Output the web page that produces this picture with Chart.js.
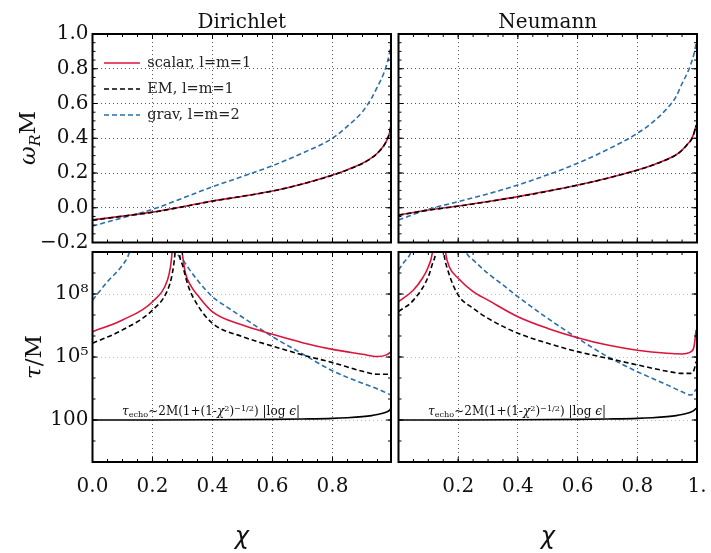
<!DOCTYPE html>
<html>
<head>
<meta charset="utf-8">
<script src="https://cdn.jsdelivr.net/npm/chart.js@4.4.1/dist/chart.umd.min.js"></script>
<style>
  body { margin: 0; background: #fff; }
  #wrap { position: relative; width: 711px; height: 553px; overflow: hidden; font-family: 'DejaVu Serif', serif; color: #111; }
  #wrap canvas { position: absolute; left: 0; top: 0; }
  .txt { position: absolute; white-space: nowrap; line-height: 1; }
  .title { font-size: 20px; top: 11px; transform: translateX(-50%); }
  .ylab { font-size: 23px; transform: translate(-50%, -50%) rotate(-90deg); }
  .xlab { font-family: 'DejaVu Sans', sans-serif; font-style: italic; font-size: 24px; top: 524px; transform: translateX(-50%); }
  .note { font-size: 12px; top: 405px; }
  .lo { position: relative; font-size: 0.68em; top: 0.3em; }
  .hi { position: relative; font-size: 0.68em; top: -0.45em; }
</style>
</head>
<body>
<div id="wrap">
  <canvas id="topD" width="711" height="553"></canvas>
  <canvas id="topN" width="711" height="553"></canvas>
  <canvas id="botD" width="711" height="553"></canvas>
  <canvas id="botN" width="711" height="553"></canvas>

  <div class="txt title" style="left:241.75px">Dirichlet</div>
  <div class="txt title" style="left:547.75px">Neumann</div>
  <div class="txt ylab" style="left:27px;top:138px"><i>ω</i><span class="lo"><i>R</i></span>M</div>
  <div class="txt ylab" style="left:33px;top:357px"><i>τ</i>/M</div>
  <div class="txt xlab" style="left:241.75px">χ</div>
  <div class="txt xlab" style="left:547.75px">χ</div>
  <div class="txt note" style="left:122px"><i>τ</i><span class="lo">echo</span>~2M(1+(1-<i>χ</i><span class="hi">2</span>)<span class="hi">−1/2</span>) |log <i>ϵ</i>|</div>
  <div class="txt note" style="left:428px"><i>τ</i><span class="lo">echo</span>~2M(1+(1-<i>χ</i><span class="hi">2</span>)<span class="hi">−1/2</span>) |log <i>ϵ</i>|</div>
</div>

<script>
// Axis ticks
const chiTicks = [0, 0.2, 0.4, 0.6, 0.8, 1.0];
const chiLabelsD = ['0.0', '0.2', '0.4', '0.6', '0.8', ''];
const chiLabelsN = ['', '0.2', '0.4', '0.6', '0.8', '1.'];
const omegaTicks = [-0.2, 0, 0.2, 0.4, 0.6, 0.8, 1.0];
const omegaLabels = ['−0.2', '0.0', '0.2', '0.4', '0.6', '0.8', '1.0'];
const tauTicks = [100, 1e5, 1e8];
const tauLabels = ['100', '10⁵', '10⁸'];

// Real part of the frequency, Dirichlet
const chiTopD = [0, 0.1, 0.2, 0.3, 0.4, 0.5, 0.6, 0.7, 0.8, 0.85, 0.9, 0.93, 0.95, 0.97, 0.98, 0.99, 0.995];
const omegaScalarD = [-0.070, -0.048, -0.025, 0.006, 0.039, 0.066, 0.096, 0.137, 0.188, 0.219, 0.256, 0.287, 0.315, 0.355, 0.385, 0.430, 0.475];
const omegaEmD = [-0.072, -0.049, -0.026, 0.005, 0.038, 0.066, 0.096, 0.137, 0.187, 0.218, 0.255, 0.286, 0.314, 0.354, 0.384, 0.430, 0.474];
const omegaGravD = [-0.105, -0.058, -0.009, 0.055, 0.121, 0.180, 0.242, 0.315, 0.400, 0.470, 0.553, 0.630, 0.697, 0.770, 0.820, 0.890, 0.950];

// Real part of the frequency, Neumann
const chiTopN = [0, 0.1, 0.2, 0.3, 0.4, 0.5, 0.6, 0.7, 0.8, 0.85, 0.9, 0.93, 0.95, 0.97, 0.98, 0.99, 0.997];
const omegaScalarN = [-0.042, -0.013, 0.010, 0.036, 0.064, 0.096, 0.131, 0.170, 0.217, 0.245, 0.279, 0.305, 0.332, 0.370, 0.390, 0.430, 0.476];
const omegaEmN = [-0.043, -0.014, 0.009, 0.035, 0.063, 0.095, 0.130, 0.170, 0.216, 0.244, 0.278, 0.304, 0.331, 0.369, 0.389, 0.430, 0.474];
const omegaGravN = [-0.070, -0.009, 0.035, 0.080, 0.131, 0.190, 0.256, 0.335, 0.428, 0.490, 0.572, 0.640, 0.715, 0.785, 0.830, 0.885, 0.946];

// Instability time scale, Dirichlet (null = break at the resonance)
const chiTauScalarD = [0, 0.1, 0.2, 0.25, 0.26, 0.265, 0.27, 0.28, 0.29, 0.3, 0.31, 0.33, 0.35, 0.4, 0.5, 0.6, 0.7, 0.8, 0.9, 0.95, 0.98, 0.995];
const tauScalarD = [1.6e6, 5.8e6, 4.3e7, 4.7e8, 2.0e9, 8.7e9, 1e11, null, 1e11, 7.2e9, 9.5e8, 2.2e8, 8.9e7, 1.4e7, 3.3e6, 1.2e6, 4.8e5, 2.3e5, 1.35e5, 1.05e5, 1.26e5, 1.8e5];
const chiTauEmD = [0, 0.1, 0.2, 0.25, 0.265, 0.275, 0.28, 0.282, 0.285, 0.29, 0.3, 0.32, 0.35, 0.4, 0.5, 0.6, 0.7, 0.8, 0.9, 0.95, 0.98, 0.995];
const tauEmD = [4.5e5, 1.95e6, 1.7e7, 1.5e8, 8e8, 8.7e9, 1e11, null, 1e11, 8e9, 2.4e9, 2.2e8, 3e7, 4e6, 9.3e5, 3.3e5, 1.26e5, 5.4e4, 2.1e4, 1.5e4, 1.5e4, 1.8e4];
const chiTauGravD = [0, 0.05, 0.1, 0.122, 0.14, 0.2, 0.27, 0.283, 0.3, 0.32, 0.35, 0.4, 0.45, 0.5, 0.6, 0.7, 0.8, 0.9, 0.95, 0.995];
const tauGravD = [5.1e7, 3.9e8, 2.4e9, 8.7e9, 1e11, null, 1e11, 8.7e9, 4.5e9, 1.7e9, 4.5e8, 7.4e7, 2.3e7, 7.8e6, 9.3e5, 1.4e5, 2.2e4, 5.6e3, 3.0e3, 1.55e3];
const chiEchoD = [0, 0.2, 0.4, 0.6, 0.7, 0.8, 0.85, 0.9, 0.93, 0.95, 0.97, 0.98, 0.99, 0.995];
const tauEchoD = [100, 100, 102, 107, 112, 120, 129, 145, 162, 182, 214, 240, 288, 363];

// Instability time scale, Neumann
const chiTauScalarN = [0, 0.05, 0.08, 0.1, 0.113, 0.12, 0.135, 0.15, 0.158, 0.17, 0.2, 0.25, 0.3, 0.4, 0.5, 0.6, 0.7, 0.8, 0.9, 0.95, 0.98, 0.99, 0.997];
const tauScalarN = [4.3e7, 1.55e8, 5.6e8, 2e9, 8.7e9, 1e11, null, 1e11, 8.7e9, 2e9, 5.6e8, 1.3e8, 5.1e7, 8.3e6, 2.3e6, 8.3e5, 3.7e5, 2.1e5, 1.5e5, 1.4e5, 1.8e5, 3.1e5, 1.95e6];
const chiTauEmN = [0, 0.05, 0.1, 0.115, 0.124, 0.13, 0.138, 0.145, 0.152, 0.165, 0.2, 0.25, 0.3, 0.4, 0.5, 0.6, 0.7, 0.8, 0.9, 0.95, 0.98, 0.99, 0.997];
const tauEmN = [1.45e7, 5.1e7, 6.8e8, 3.2e9, 8.7e9, 1e11, null, 1e11, 8.7e9, 1.4e9, 8.9e7, 2.1e7, 6.9e6, 1.35e6, 4.5e5, 1.8e5, 8.7e4, 4.2e4, 2.1e4, 1.66e4, 1.66e4, 2.4e4, 6e4];
const chiTauGravN = [0, 0.02, 0.04, 0.06, 0.14, 0.2, 0.228, 0.25, 0.3, 0.35, 0.4, 0.5, 0.6, 0.7, 0.8, 0.9, 0.95, 0.98, 0.997];
const tauGravN = [1.4e9, 3.5e9, 8.7e9, 1e11, null, 1e11, 8.7e9, 4.2e9, 9.5e8, 2.7e8, 7.4e7, 6.9e6, 7.8e5, 1.05e5, 2.0e4, 4.7e3, 2.2e3, 1.55e3, 2.9e3];
const chiEchoN = [0, 0.2, 0.4, 0.6, 0.7, 0.8, 0.85, 0.9, 0.93, 0.95, 0.97, 0.98, 0.99, 0.997];
const tauEchoN = [100, 100, 102, 107, 112, 120, 129, 145, 162, 182, 214, 240, 288, 363];

const RED = '#dc143c';
const BLUE = '#2c6ea8';
const BLACK = '#000';
const SERIF = "'DejaVu Serif', serif";
const DASH = [5, 3];

// minor frame ticks (decoration only)
const chiMinor = Array.from({length: 21}, (_, i) => i * 0.05);
const omegaMinor = Array.from({length: 25}, (_, i) => -0.2 + i * 0.05);
const tauMinor = Array.from({length: 11}, (_, i) => 10 ** i);

function series(chi, vals) {
    return chi.map((c, i) => ({x: c, y: vals[i]}));
}

function line(label, chi, vals, color, dashed, order) {
    return {
        label: label,
        data: series(chi, vals),
        borderColor: color,
        backgroundColor: color,
        borderWidth: 1.6,
        borderDash: dashed ? DASH : [],
        pointRadius: 0,
        fill: false,
        spanGaps: false,
        cubicInterpolationMode: 'monotone',
        order: order
    };
}

// small line sample used as legend marker (keeps the dash pattern)
function swatch(color, dash) {
    const c = document.createElement('canvas');
    c.width = 36;
    c.height = 4;
    const g = c.getContext('2d');
    g.strokeStyle = color;
    g.lineWidth = 1.6;
    g.setLineDash(dash);
    g.beginPath();
    g.moveTo(0, 2);
    g.lineTo(36, 2);
    g.stroke();
    return c;
}

// Mathematica-style frame with inward ticks
const frameTicks = {
    id: 'frameTicks',
    afterDraw(chart, args, opts) {
        const {ctx, chartArea: a} = chart;
        const xs = chart.scales.x, ys = chart.scales.y;
        ctx.save();
        ctx.strokeStyle = '#000';
        ctx.lineWidth = 1;
        const mark = (scale, vals, len) => {
            vals.forEach(v => {
                if (v < scale.min - 1e-9 || v > scale.max + 1e-9) return;
                const p = scale.getPixelForValue(v);
                ctx.beginPath();
                if (scale.isHorizontal()) {
                    ctx.moveTo(p, a.bottom); ctx.lineTo(p, a.bottom - len);
                    ctx.moveTo(p, a.top); ctx.lineTo(p, a.top + len);
                } else {
                    ctx.moveTo(a.left, p); ctx.lineTo(a.left + len, p);
                    ctx.moveTo(a.right, p); ctx.lineTo(a.right - len, p);
                }
                ctx.stroke();
            });
        };
        mark(xs, chiMinor, 3);
        mark(xs, chiTicks, 5);
        mark(ys, opts.yMinor, 3);
        mark(ys, opts.yMajor, 5);
        ctx.lineWidth = 2;
        ctx.strokeRect(a.left, a.top, a.width, a.height);
        ctx.restore();
    }
};

function panel(id, cfg) {
    const xAxis = {
        type: 'linear',
        min: 0,
        max: cfg.xMax,
        grid: {color: '#555', lineWidth: 1, drawTicks: false},
        border: {display: false, dash: [1, 3]},
        afterBuildTicks: s => { s.ticks = chiTicks.filter(v => v <= s.max + 1e-9).map(v => ({value: v})); },
        afterFit: s => { s.height = cfg.xLabels ? 40 : 0; s.paddingLeft = 0; s.paddingRight = 0; },
        ticks: {
            display: !!cfg.xLabels,
            autoSkip: false,
            maxRotation: 0,
            padding: 13,
            color: '#111',
            font: {family: SERIF, size: 20},
            callback: (v, i) => cfg.xLabels ? cfg.xLabels[i] : ''
        }
    };
    const yAxis = {
        type: cfg.yType,
        min: cfg.yMin,
        max: cfg.yMax,
        grid: {color: cfg.yGrid, lineWidth: 1, drawTicks: false},
        border: {display: false, dash: [1, 3]},
        afterBuildTicks: s => { s.ticks = cfg.yTicks.map(v => ({value: v})); },
        afterFit: s => { s.width = cfg.yLabels ? 60 : 0; s.paddingTop = 0; s.paddingBottom = 0; },
        ticks: {
            display: !!cfg.yLabels,
            autoSkip: false,
            padding: 4,
            color: '#111',
            font: {family: SERIF, size: 20},
            callback: (v, i) => cfg.yLabels ? cfg.yLabels[i] : ''
        }
    };
    return new Chart(document.getElementById(id), {
        type: 'line',
        data: {datasets: cfg.datasets},
        plugins: [frameTicks],
        options: {
            responsive: false,
            animation: false,
            events: [],
            layout: {padding: cfg.pad},
            plugins: {
                legend: cfg.legend || {display: false},
                tooltip: {enabled: false},
                frameTicks: {yMajor: cfg.yTicks, yMinor: cfg.yMinor}
            },
            scales: {x: xAxis, y: yAxis}
        }
    });
}

const legendTop = {
    display: true,
    position: 'chartArea',
    align: 'start',
    title: {display: true, text: '', font: {size: 1}, padding: {top: 43, bottom: 0}},
    labels: {
        usePointStyle: true,
        pointStyleWidth: 36,
        padding: 11.5,
        color: '#222',
        font: {family: SERIF, size: 14.5},
        generateLabels: chart => Chart.defaults.plugins.legend.labels.generateLabels(chart)
            .sort((a, b) => a.datasetIndex - b.datasetIndex)
            .map(item => {
                const ds = chart.data.datasets[item.datasetIndex];
                item.pointStyle = swatch(ds.borderColor, ds.borderDash);
                return item;
            })
    }
};

panel('topD', {
    pad: {left: 32.5, top: 34, right: 320, bottom: 310.5},
    xMax: 0.995, xLabels: null,
    yType: 'linear', yMin: -0.2, yMax: 1.0, yTicks: omegaTicks, yLabels: omegaLabels, yMinor: omegaMinor, yGrid: '#555',
    legend: legendTop,
    datasets: [
        line('scalar, l=m=1', chiTopD, omegaScalarD, RED, false, 1),
        line('EM, l=m=1', chiTopD, omegaEmD, BLACK, true, 0),
        line('grav, l=m=2', chiTopD, omegaGravD, BLUE, true, 2)
    ]
});

panel('topN', {
    pad: {left: 398.5, top: 34, right: 14, bottom: 310.5},
    xMax: 1.0, xLabels: null,
    yType: 'linear', yMin: -0.2, yMax: 1.0, yTicks: omegaTicks, yLabels: null, yMinor: omegaMinor, yGrid: '#555',
    datasets: [
        line('scalar, l=m=1', chiTopN, omegaScalarN, RED, false, 1),
        line('EM, l=m=1', chiTopN, omegaEmN, BLACK, true, 0),
        line('grav, l=m=2', chiTopN, omegaGravN, BLUE, true, 2)
    ]
});

panel('botD', {
    pad: {left: 32.5, top: 252, right: 320, bottom: 51},
    xMax: 0.995, xLabels: chiLabelsD,
    yType: 'logarithmic', yMin: 1, yMax: 1e10, yTicks: tauTicks, yLabels: tauLabels, yMinor: tauMinor, yGrid: '#bbb',
    datasets: [
        line('scalar, l=m=1', chiTauScalarD, tauScalarD, RED, false, 1),
        line('EM, l=m=1', chiTauEmD, tauEmD, BLACK, true, 0),
        line('grav, l=m=2', chiTauGravD, tauGravD, BLUE, true, 2),
        line('echo', chiEchoD, tauEchoD, BLACK, false, 3)
    ]
});

panel('botN', {
    pad: {left: 398.5, top: 252, right: 14, bottom: 51},
    xMax: 1.0, xLabels: chiLabelsN,
    yType: 'logarithmic', yMin: 1, yMax: 1e10, yTicks: tauTicks, yLabels: null, yMinor: tauMinor, yGrid: '#bbb',
    datasets: [
        line('scalar, l=m=1', chiTauScalarN, tauScalarN, RED, false, 1),
        line('EM, l=m=1', chiTauEmN, tauEmN, BLACK, true, 0),
        line('grav, l=m=2', chiTauGravN, tauGravN, BLUE, true, 2),
        line('echo', chiEchoN, tauEchoN, BLACK, false, 3)
    ]
});
</script>
</body>
</html>
